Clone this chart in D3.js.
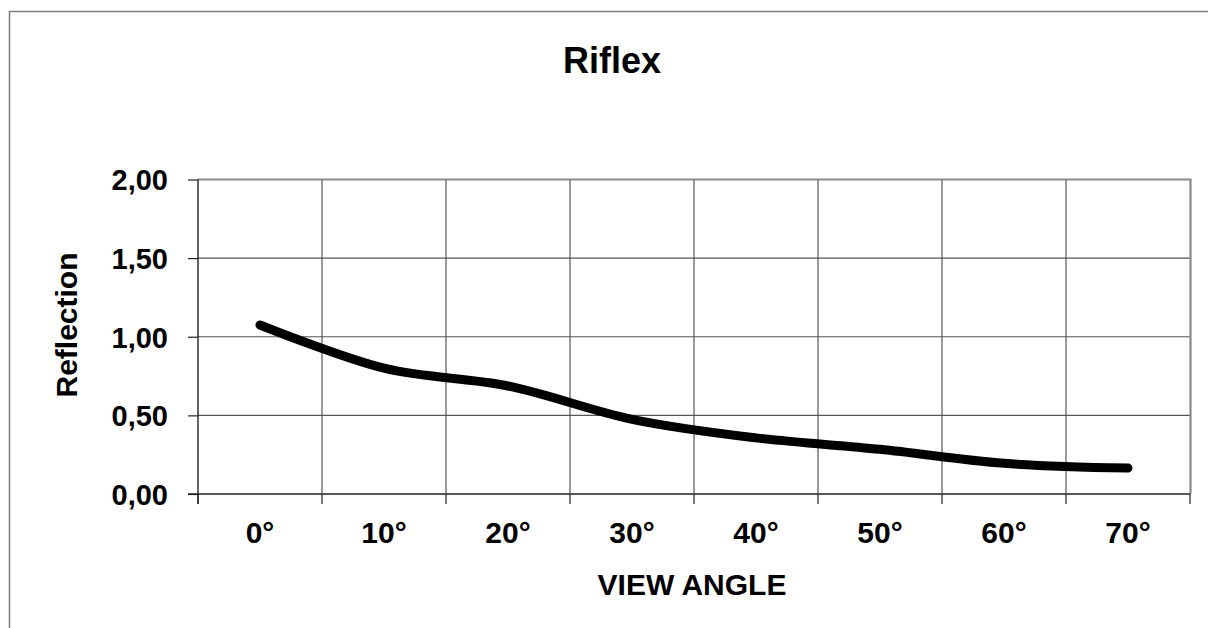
<!DOCTYPE html>
<html>
<head>
<meta charset="utf-8">
<script src="https://cdn.jsdelivr.net/npm/d3@7"></script>
<style>
  html, body { margin: 0; padding: 0; background: #fff; }
  svg { display: block; }
  text { font-family: "Liberation Sans", Arial, sans-serif; font-weight: bold; fill: #000; }
</style>
</head>
<body>
<svg id="chart" width="1208" height="628"></svg>
<script>
// ---- data ----
const categories = ["0°", "10°", "20°", "30°", "40°", "50°", "60°", "70°"];
const reflection = [1.075, 0.80, 0.687, 0.475, 0.357, 0.284, 0.195, 0.165];
const yTicks = [0, 0.5, 1.0, 1.5, 2.0];
const titleText = "Riflex";
const xTitle = "VIEW ANGLE";
const yTitle = "Reflection";

// ---- layout ----
const W = 1208, H = 628;
const plot = { left: 198, right: 1190, top: 179.5, bottom: 494 };
const svg = d3.select("#chart");

// outer chart border
svg.append("rect")
  .attr("x", 9.5).attr("y", 11.5)
  .attr("width", W + 20).attr("height", H + 20)
  .attr("fill", "#fff").attr("stroke", "#808080").attr("stroke-width", 1.5);

const x = d3.scaleBand().domain(categories).range([plot.left, plot.right]).padding(0);
const y = d3.scaleLinear().domain([0, 2]).range([plot.bottom, plot.top]);

const fmt = v => d3.format(".2f")(v).replace(".", ",");

// horizontal gridlines
svg.append("g").selectAll("line")
  .data(yTicks.filter(v => v > 0 && v < 2))
  .join("line")
  .attr("x1", plot.left).attr("x2", plot.right)
  .attr("y1", d => y(d)).attr("y2", d => y(d))
  .attr("stroke", "#555").attr("stroke-width", 1.2);

// vertical gridlines at band boundaries
const bounds = categories.map(c => x(c)).concat([x.range()[1]]);
svg.append("g").selectAll("line")
  .data(bounds.slice(1, -1))
  .join("line")
  .attr("x1", d => d).attr("x2", d => d)
  .attr("y1", plot.top).attr("y2", plot.bottom)
  .attr("stroke", "#555").attr("stroke-width", 1.2);

// plot frame (top & right gray)
svg.append("path")
  .attr("d", `M${plot.left},${plot.top} H${plot.right + 0.5} V${plot.bottom}`)
  .attr("fill", "none").attr("stroke", "#8a8a8a").attr("stroke-width", 2.2);

// y axis
const yAxis = d3.axisLeft(y).tickValues(yTicks).tickFormat(fmt).tickSize(10).tickPadding(20);
const gy = svg.append("g").attr("transform", `translate(${plot.left},0)`).call(yAxis);
gy.select(".domain").attr("stroke", "#222").attr("stroke-width", 1.4).attr("d", `M0,${plot.top}V${plot.bottom + 10}`);
gy.selectAll(".tick line").attr("stroke", "#222").attr("stroke-width", 1.2);
gy.selectAll(".tick text").style("font-size", "29px").style("font-family", "'Liberation Sans', Arial, sans-serif").style("font-weight", "bold").attr("dy", "0.36em");

// x axis line
svg.append("line")
  .attr("x1", plot.left - 10).attr("x2", plot.right)
  .attr("y1", plot.bottom).attr("y2", plot.bottom)
  .attr("stroke", "#222").attr("stroke-width", 1.4);
// x ticks at band boundaries
svg.append("g").selectAll("line")
  .data(bounds)
  .join("line")
  .attr("x1", d => d).attr("x2", d => d)
  .attr("y1", plot.bottom).attr("y2", plot.bottom + 10)
  .attr("stroke", "#222").attr("stroke-width", 1.2);
// x labels via axis (no ticks)
const xAxis = d3.axisBottom(x).tickSize(0).tickPadding(0);
const gx = svg.append("g").attr("transform", `translate(0,${plot.bottom})`).call(xAxis);
gx.select(".domain").remove();
gx.selectAll(".tick text")
  .attr("y", 49).attr("dy", null)
  .style("font-size", "30px").style("font-family", "'Liberation Sans', Arial, sans-serif").style("font-weight", "bold");

// line
const line = d3.line()
  .x((d, i) => x(categories[i]) + x.bandwidth() / 2)
  .y(d => y(d))
  .curve(d3.curveCatmullRom.alpha(0));
svg.append("path")
  .datum(reflection)
  .attr("d", line)
  .attr("fill", "none").attr("stroke", "#000")
  .attr("stroke-width", 9).attr("stroke-linecap", "round").attr("stroke-linejoin", "round");

// titles
svg.append("text").attr("x", 612).attr("y", 73).attr("text-anchor", "middle")
  .style("font-size", "36px").text(titleText);
svg.append("text").attr("x", 692).attr("y", 595).attr("text-anchor", "middle")
  .style("font-size", "30px").text(xTitle);
svg.append("text").attr("transform", "translate(77,325) rotate(-90)").attr("text-anchor", "middle")
  .style("font-size", "30px").text(yTitle);
</script>
</body>
</html>
